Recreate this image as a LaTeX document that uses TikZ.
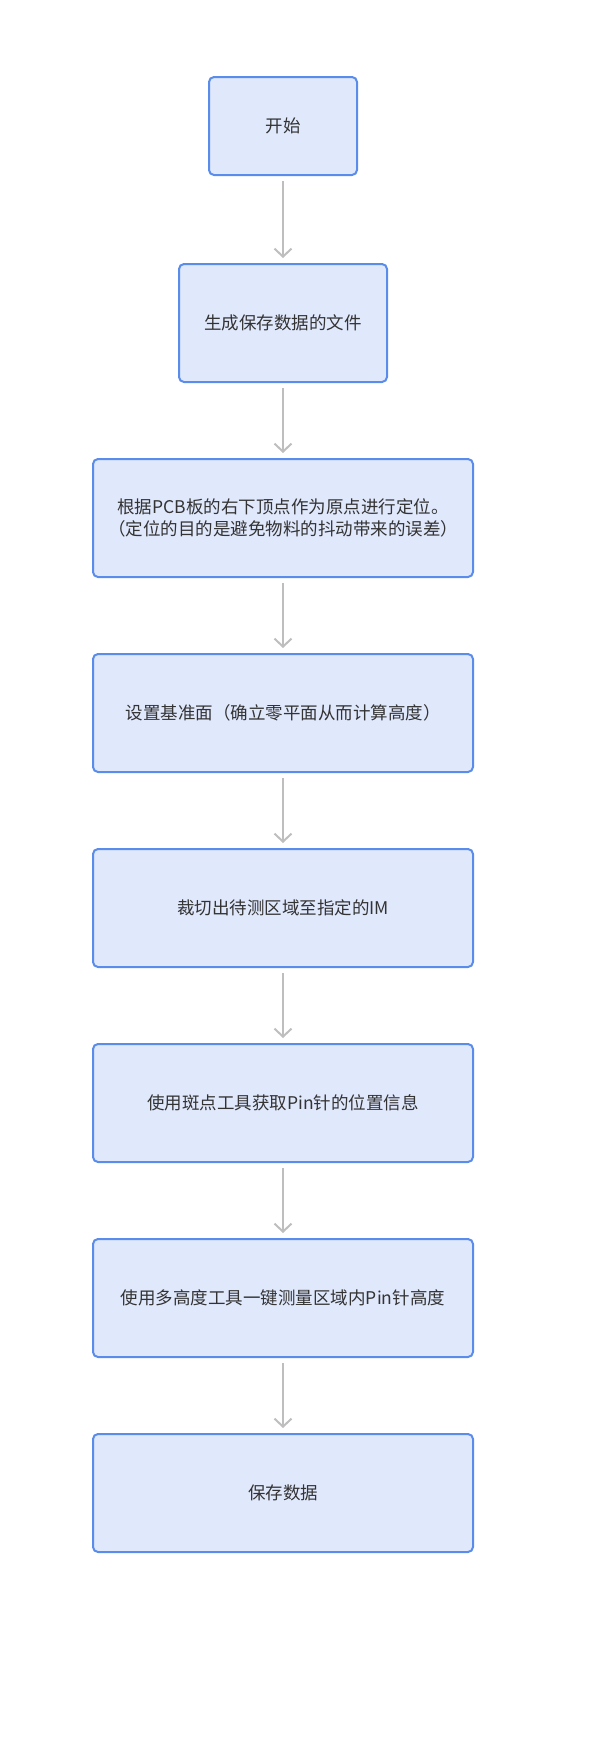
\documentclass[tikz,border=0pt]{standalone}
\usepackage{fontspec}
\setmainfont{Noto Sans CJK SC}
\usetikzlibrary{positioning,arrows.meta}
\definecolor{boxfill}{RGB}{224,232,252}
\definecolor{boxline}{RGB}{90,140,235}
\definecolor{boxtext}{RGB}{51,51,51}
\definecolor{arrowgray}{RGB}{190,190,190}
\tikzset{
  stepbox/.style={rectangle, draw=boxline, fill=boxfill, text=boxtext, line width=2pt, rounded corners=5pt,
    minimum width=380pt, minimum height=118pt, align=center, inner sep=0pt, outer sep=0pt,
    font=\fontsize{17.5}{22.5}\selectfont},
  flowarrow/.style={draw=arrowgray, line width=2pt, -{Straight Barb[length=8pt,width=17pt]},
    shorten <=6pt, shorten >=6pt}
}
\begin{document}
\begin{tikzpicture}
  \useasboundingbox (0,0) rectangle (596pt,-1746pt);
  \node[stepbox, minimum width=148pt, minimum height=98pt] (start) at (283pt,-126pt) {开始};
  \node[stepbox, minimum width=208pt, below=89pt of start] (newfile) {生成保存数据的文件};
  \node[stepbox, below=77pt of newfile] (locate) {根据PCB板的右下顶点作为原点进行定位。\\（定位的目的是避免物料的抖动带来的误差）};
  \node[stepbox, below=77pt of locate] (refplane) {设置基准面（确立零平面从而计算高度）};
  \node[stepbox, below=77pt of refplane] (crop) {裁切出待测区域至指定的IM};
  \node[stepbox, below=77pt of crop] (pinpos) {使用斑点工具获取Pin针的位置信息};
  \node[stepbox, below=77pt of pinpos] (measure) {使用多高度工具一键测量区域内Pin针高度};
  \node[stepbox, below=77pt of measure] (save) {保存数据};

  \draw[flowarrow] (start) -- (newfile);
  \draw[flowarrow] (newfile) -- (locate);
  \draw[flowarrow] (locate) -- (refplane);
  \draw[flowarrow] (refplane) -- (crop);
  \draw[flowarrow] (crop) -- (pinpos);
  \draw[flowarrow] (pinpos) -- (measure);
  \draw[flowarrow] (measure) -- (save);
\end{tikzpicture}
\end{document}
